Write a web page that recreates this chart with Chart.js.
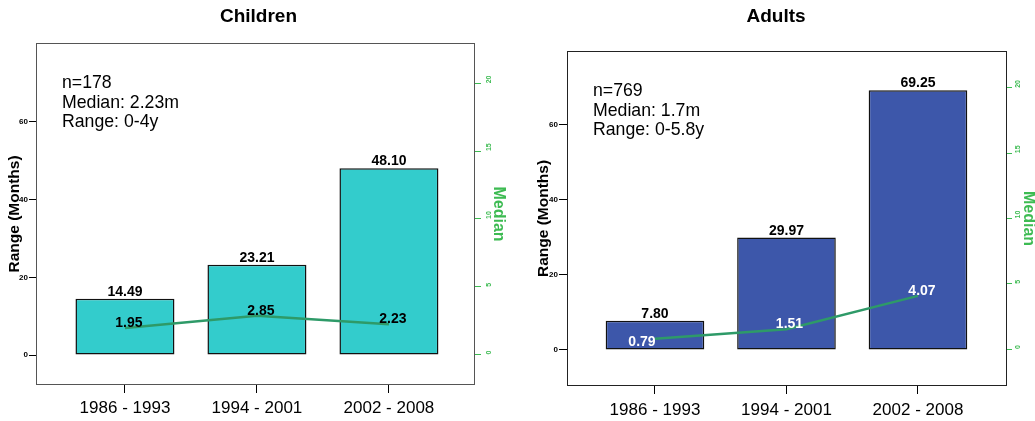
<!DOCTYPE html>
<html>
<head>
<meta charset="utf-8">
<script src="https://cdn.jsdelivr.net/npm/chart.js@4.4.0/dist/chart.umd.min.js"></script>
<style>
  html, body { margin:0; padding:0; background:#fff; overflow:hidden; }
  .box { position:absolute; top:0; height:421px; }
  #boxChildren { left:0; width:517px; }
  #boxAdults { left:517px; width:518px; }
</style>
</head>
<body>
<div class="box" id="boxChildren"><canvas id="chartChildren" width="517" height="421"></canvas></div>
<div class="box" id="boxAdults"><canvas id="chartAdults" width="518" height="421"></canvas></div>
<script>
// données
const periods = ['1986 - 1993', '1994 - 2001', '2002 - 2008'];
const childrenRange = [14.49, 23.21, 48.10];
const childrenMedian = [1.95, 2.85, 2.23];
const adultsRange = [7.80, 29.97, 69.25];
const adultsMedian = [0.79, 1.51, 4.07];
const rangeTicks = [0, 20, 40, 60];
const medianTicks = [0, 5, 10, 15, 20];
const childrenNotes = ['n=178', 'Median: 2.23m', 'Range: 0-4y'];
const adultsNotes = ['n=769', 'Median: 1.7m', 'Range: 0-5.8y'];

Chart.defaults.font.family = "'Liberation Sans', Arial, sans-serif";
const GREEN = '#3dbb52';
const LINE = '#2e9a68';

// cadre, étiquettes des barres et des médianes, texte d'annotation
const decor = {
  id: 'decor',
  afterDatasetsDraw(chart, args, o) {
    const ctx = chart.ctx, a = chart.chartArea;
    ctx.save();
    ctx.strokeStyle = o.frame;
    ctx.lineWidth = 1;
    ctx.strokeRect(a.left + 0.5, a.top + 0.5, a.width - 1, a.height - 1);

    ctx.font = "bold 14px 'Liberation Sans', Arial, sans-serif";
    ctx.textAlign = 'center';
    ctx.fillStyle = '#000';
    ctx.textBaseline = 'alphabetic';
    const bars = chart.getDatasetMeta(0);
    bars.data.forEach((el, i) => {
      const v = chart.data.datasets[0].data[i].y;
      ctx.fillText(v.toFixed(2), el.x, el.y - 3);
    });

    ctx.textBaseline = 'middle';
    ctx.fillStyle = o.medianColor;
    const pts = chart.getDatasetMeta(1);
    pts.data.forEach((el, i) => {
      const v = chart.data.datasets[1].data[i].y;
      const s = o.shifts[i];
      ctx.fillText(v.toFixed(2), el.x + s[0], el.y + s[1]);
    });

    ctx.font = "17.7px 'Liberation Sans', Arial, sans-serif";
    ctx.textAlign = 'left';
    ctx.textBaseline = 'alphabetic';
    ctx.fillStyle = '#000';
    o.notes.forEach((t, i) => ctx.fillText(t, a.left + 26, a.top + 45 + i * 19.5));
    ctx.restore();
  }
};

function makeChart(id, title, range, median, notes, g) {
  return new Chart(document.getElementById(id), {
    type: 'bar',
    data: {
      datasets: [
        { data: range.map((v, i) => ({x: i, y: v})), yAxisID: 'y', order: 1,
          backgroundColor: g.barColor, borderColor: '#111', borderWidth: 1.5, borderSkipped: false,
          barPercentage: 0.75, categoryPercentage: 1 },
        { type: 'line', data: median.map((v, i) => ({x: i, y: v})), yAxisID: 'y2', order: 0,
          borderColor: LINE, borderWidth: 2.5, pointRadius: 0, tension: 0, fill: false }
      ]
    },
    options: {
      responsive: false, animation: false,
      layout: { padding: 0 },
      plugins: {
        legend: { display: false }, tooltip: { enabled: false },
        title: { display: true, text: title, color: '#000', font: { size: 19, weight: 'bold' },
                 padding: { top: 5.6, bottom: g.titleBottom } },
        decor: { frame: g.frame, medianColor: g.medianColor, shifts: g.shifts, notes }
      },
      scales: {
        x: {
          type: 'linear', min: g.xMin, max: g.xMax, offset: false,
          afterBuildTicks: s => { s.ticks = periods.map((_, i) => ({value: i})); },
          afterFit: s => { s.height = g.bottomH; },
          grid: { drawOnChartArea: false, offset: false, tickLength: 8, tickColor: '#000' },
          border: { display: false },
          ticks: { callback: v => periods[v], color: '#000', font: { size: 17 }, padding: g.xPad,
                   maxRotation: 0, autoSkip: false }
        },
        y: {
          position: 'left', min: g.yMin, max: g.yMax,
          afterBuildTicks: s => { s.ticks = rangeTicks.map(v => ({value: v})); },
          afterFit: s => { s.width = g.leftW; },
          grid: { drawOnChartArea: false, tickLength: g.leftTick, tickColor: '#000' },
          border: { display: false },
          ticks: { color: '#000', font: { size: 8, weight: 'bold' }, padding: 1, autoSkip: false },
          title: { display: true, text: 'Range (Months)', color: '#000', font: { size: 15.5, weight: 'bold' },
                   padding: { top: g.rangeTitlePad, bottom: 0 } }
        },
        y2: {
          position: 'right', min: g.y2Min, max: g.y2Max,
          afterBuildTicks: s => { s.ticks = medianTicks.map(v => ({value: v})); },
          afterFit: s => { s.width = g.rightW; },
          grid: { drawOnChartArea: false, tickLength: g.rightTick, tickColor: GREEN },
          border: { display: false },
          ticks: { color: GREEN, font: { size: 7, weight: 'bold' }, padding: g.rightPad, autoSkip: false,
                   minRotation: 90, maxRotation: 90, crossAlign: 'near' },
          title: { display: true, text: 'Median', color: GREEN, font: { size: 16, weight: 'bold' },
                   padding: { top: g.medianTitlePad, bottom: 0 } }
        }
      }
    },
    plugins: [decor]
  });
}

makeChart('chartChildren', 'Children', childrenRange, childrenMedian, childrenNotes, {
  barColor: '#33cccc', frame: '#555', medianColor: '#000',
  shifts: [[4, -5], [4, -5], [4, -5]],
  leftW: 36, rightW: 42, bottomH: 36, titleBottom: 14.6, xPad: 5,
  xMin: -0.674, xMax: 2.652, yMin: -7.72, yMax: 80.31, y2Min: -2.25, y2Max: 22.97,
  leftTick: 7, rightTick: 6, rightPad: 8, rangeTitlePad: 5.7, medianTitlePad: 9.4
});

makeChart('chartAdults', 'Adults', adultsRange, adultsMedian, adultsNotes, {
  barColor: '#3d57aa', frame: '#222', medianColor: '#fff',
  shifts: [[-13, 3], [3, -5], [4, -5]],
  leftW: 50, rightW: 28, bottomH: 35, titleBottom: 22.6, xPad: 6,
  xMin: -0.669, xMax: 2.677, yMin: -9.6, yMax: 79.73, y2Min: -2.83, y2Max: 22.82,
  leftTick: 8, rightTick: 5, rightPad: 6, rangeTitlePad: 17.7, medianTitlePad: -2.6
});
</script>
</body>
</html>
